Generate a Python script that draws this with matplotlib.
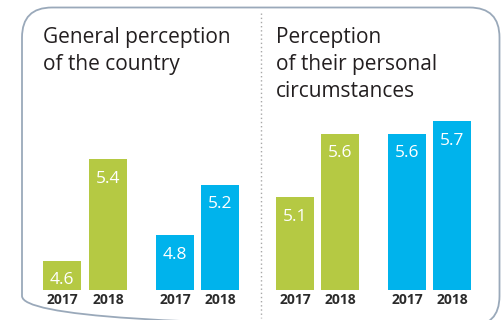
import matplotlib
matplotlib.use("Agg")
import matplotlib.pyplot as plt
from matplotlib.patches import FancyBboxPatch

# ---- data ----
panel_titles = [
    ["General perception", "of the country"],
    ["Perception", "of their personal", "circumstances"],
]
years = ["2017", "2018", "2017", "2018", "2017", "2018", "2017", "2018"]
values = [4.6, 5.4, 4.8, 5.2, 5.1, 5.6, 5.6, 5.7]
value_labels = ["4.6", "5.4", "4.8", "5.2", "5.1", "5.6", "5.6", "5.7"]

GREEN = "#b5c943"
BLUE = "#00b3ec"
TEXT = "#231f20"
FRAME = "#9aa9ba"
bar_colors = [GREEN, GREEN, BLUE, BLUE, GREEN, GREEN, BLUE, BLUE]

W, H = 501, 320
DPI = 100
plt.rcParams["font.family"] = ["Open Sans", "DejaVu Sans"]

fig = plt.figure(figsize=(W / DPI, H / DPI), dpi=DPI)

# background layer in pixel coordinates (y downwards)
bg = fig.add_axes([0, 0, 1, 1])
bg.set_xlim(0, W)
bg.set_ylim(H, 0)
bg.axis("off")

# rounded outer frame; its bottom edge runs just past the lower border
frame = FancyBboxPatch((22, 7.5), 477.5, 318.5, boxstyle="round,pad=0,rounding_size=30",
                       fill=False, edgecolor=FRAME, linewidth=1.3)
bg.add_patch(frame)
bg.plot([261, 261], [13, 318], color="#a8a8a8", linewidth=1.0,
        linestyle=(0, (1, 2)))

# panel titles
title_x = [43, 276]
for tx, lines in zip(title_x, panel_titles):
    for i, line in enumerate(lines):
        bg.text(tx, 43 + 27 * i, line, fontsize=15, color=TEXT,
                ha="left", va="baseline")

# bar layer: baseline at pixel row 290, 127 px per unit
base_px, top_px = 290, 100
px_per_unit = 127.0
v_floor = 4.37
ax = fig.add_axes([0, (H - base_px) / H, 1, (base_px - top_px) / H])
ax.set_xlim(0, W)
ax.set_ylim(v_floor, v_floor + (base_px - top_px) / px_per_unit)
ax.axis("off")

centers = [62, 108, 175, 220.5, 295, 340, 407, 452]
bar_w = 38
ax.bar(centers, [v - v_floor for v in values], bottom=v_floor, width=bar_w,
       color=bar_colors, linewidth=0)

label_drop = 19.5 / px_per_unit
for x, v, lab in zip(centers, values, value_labels):
    ax.text(x, v - label_drop, lab, color="white", fontsize=12.5,
            ha="center", va="center")

for x, yr in zip(centers, years):
    bg.text(x, 300, yr, color="#2b2b2b", fontsize=10, fontweight="bold",
            ha="center", va="center")

fig.savefig("out.png", dpi=DPI)
